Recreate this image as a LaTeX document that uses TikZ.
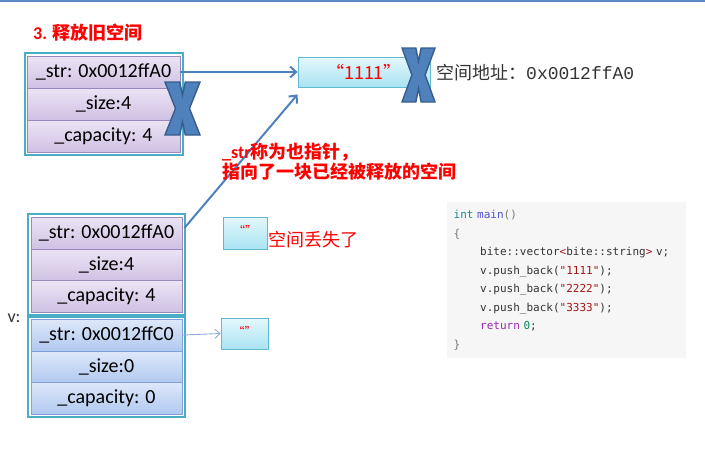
\documentclass[tikz,border=0pt]{standalone}
\usepackage{fontspec}
\setmainfont{Carlito}
\newfontfamily\cjk{Noto Sans CJK SC}
\newfontfamily\codefont{DejaVu Sans Mono}
\newfontfamily\addrfont{Liberation Mono}
\usepackage{xcolor}
\usepackage{tikz}
\usetikzlibrary{arrows.meta, positioning, calc}
\definecolor{topblue}{RGB}{91,139,199}
\definecolor{frameteal}{RGB}{75,172,198}
\definecolor{oldline}{RGB}{155,138,185}
\definecolor{oldtop}{RGB}{236,228,245}
\definecolor{oldbot}{RGB}{207,193,227}
\definecolor{newline}{RGB}{127,160,216}
\definecolor{newtop}{RGB}{222,232,249}
\definecolor{newbot}{RGB}{176,200,240}
\definecolor{strline}{RGB}{98,185,207}
\definecolor{strtop}{RGB}{228,247,252}
\definecolor{strbot}{RGB}{169,227,242}
\definecolor{ptrblue}{RGB}{79,129,189}
\definecolor{ptrthin}{RGB}{143,170,220}
\definecolor{xline}{RGB}{56,93,138}
\definecolor{textgray}{RGB}{51,51,51}
\definecolor{codegray}{RGB}{246,246,246}
\definecolor{ckey}{RGB}{22,140,140}
\definecolor{cfun}{RGB}{80,80,210}
\definecolor{cpun}{RGB}{120,120,120}
\definecolor{cstr}{RGB}{163,21,21}
\definecolor{cret}{RGB}{155,38,175}
\definecolor{cnum}{RGB}{9,134,88}

\tikzset{
    cellbase/.style={rectangle, minimum height=32pt, inner sep=0pt, line width=0.8pt,
        font=\fontsize{20}{20}\selectfont, text=black},
    oldcell/.style={cellbase, draw=oldline, top color=oldtop, bottom color=oldbot, minimum width=153pt},
    newcell/.style={cellbase, draw=newline, top color=newtop, bottom color=newbot, minimum width=151pt},
    strbox/.style={rectangle, draw=strline, top color=strtop, bottom color=strbot, line width=0.8pt, inner sep=0pt},
    frame/.style={draw=frameteal, line width=2pt},
    ptr/.style={draw=ptrblue, line width=2pt, -{Straight Barb[length=6pt, width=11pt]}},
    thinptr/.style={draw=ptrthin, line width=0.9pt, -{Straight Barb[length=5pt, width=9pt]}},
    redtext/.style={text=red, font=\cjk\fontsize{18}{20}\selectfont, inner sep=0pt},
    crossmark/.pic={
        \filldraw[fill=ptrblue, draw=xline, line width=1.4pt]
            (-0.5,-0.5) -- (-0.08,-0.5) -- (0,-0.25) -- (0.08,-0.5) -- (0.5,-0.5) -- (0.2,0)
            -- (0.5,0.5) -- (0.08,0.5) -- (0,0.25) -- (-0.08,0.5) -- (-0.5,0.5) -- (-0.2,0) -- cycle;
    }
}

\begin{document}
\begin{tikzpicture}[x=1pt, y=-1pt]
    \useasboundingbox (0,0) rectangle (705,456);
    \draw[topblue, line width=2pt] (0,1) -- (705,1);

    % title
    \node[redtext, font=\bfseries\fontsize{18}{18}\selectfont, anchor=west] (title) at (33,33) {3. {\cjk\bfseries 释放旧空间}};

    % old string object (released)
    \foreach \n/\t/\y in {str/{\_str: 0x0012ffA0}/72, size/{\_size:4}/104, cap/{\_capacity: 4}/136}
        \node[oldcell] (old-\n) at (103.5,\y) {\t};
    \draw[frame] ($(old-str.north west)+(-2,-2.5)$) rectangle ($(old-cap.south east)+(2.5,2.5)$);

    % v[0]
    \foreach \n/\t/\y in {str/{\_str: 0x0012ffA0}/233, size/{\_size:4}/265, cap/{\_capacity: 4}/296.5}
        \node[oldcell, minimum width=151pt] (v0-\n) at (106.5,\y) {\t};
    \draw[frame] ($(v0-str.north west)+(-3,-3)$) rectangle ($(v0-cap.south east)+(3,2)$);

    % v[1]
    \foreach \n/\t/\y in {str/{\_str: 0x0012ffC0}/335, size/{\_size:0}/367, cap/{\_capacity: 0}/398}
        \node[newcell] (v1-\n) at (106.5,\y) {\t};
    \draw[frame] ($(v1-str.north west)+(-3,-2)$) rectangle ($(v1-cap.south east)+(3,3)$);

    \node[font=\fontsize{18}{18}\selectfont, text=textgray] (vlabel) at (14,318) {v:};

    % strings on the heap
    \node[strbox, minimum width=132pt, minimum height=30pt, text=red, font=\cjk\fontsize{18}{18}\selectfont] (s1111) at (364,72) {“1111”};
    \node[anchor=west, inner sep=0pt, text=textgray, font=\cjk\fontsize{18}{18}\selectfont] (addr) at (436,73) {空间地址：{\addrfont 0x0012ffA0}};
    \node[strbox, minimum width=44pt, minimum height=32pt, text=red, font=\cjk\fontsize{12}{12}\selectfont] (lost) at (245,233) {\raisebox{5pt}{“”}};
    \node[redtext, anchor=west] (lostnote) at (268,240) {空间丢失了};
    \node[strbox, minimum width=47pt, minimum height=31pt, text=red, font=\cjk\fontsize{12}{12}\selectfont] (empty) at (244.5,333.5) {\raisebox{5pt}{“”}};

    % pointers
    \coordinate (v0-out) at ($(v0-str.east)+(2,-5)$);
    \coordinate (hit) at ($(s1111.south west)+(0,7)$);
    \draw[ptr] (old-str.east) -- (s1111.west);
    \draw[ptr] (v0-out) -- (hit);
    \draw[thinptr] (v1-str.east) -- (empty.west);

    % released marks
    \pic[xscale=35, yscale=53] at (182.5,108.5) {crossmark};
    \pic[xscale=33, yscale=54] at (418.5,75) {crossmark};

    \node[redtext, font=\cjk\bfseries\fontsize{18}{20}\selectfont, anchor=north west, align=left] (note) at (222,143)
        {{\fontspec{Carlito}\bfseries\_str}称为也指针，\\指向了一块已经被释放的空间};

    % code
    \node[fill=codegray, anchor=north west, minimum width=239pt, minimum height=156pt,
        text width=226pt, inner xsep=6pt, align=left, text=textgray,
        font=\codefont\fontsize{11}{18.5}\selectfont] (code) at (447,202)
        {{\color{ckey}int} {\color{cfun}main}{\color{cpun}()}\\
         {\color{cpun}\{}\\
         \phantom{xxxx}bite::vector{\color{cstr}<}bite::string{\color{cstr}>} v;\\
         \phantom{xxxx}v.push\_back({\color{cstr}"1111"});\\
         \phantom{xxxx}v.push\_back({\color{cstr}"2222"});\\
         \phantom{xxxx}v.push\_back({\color{cstr}"3333"});\\
         \phantom{xxxx}{\color{cret}return} {\color{cnum}0};\\
         {\color{cpun}\}}};
\end{tikzpicture}
\end{document}
